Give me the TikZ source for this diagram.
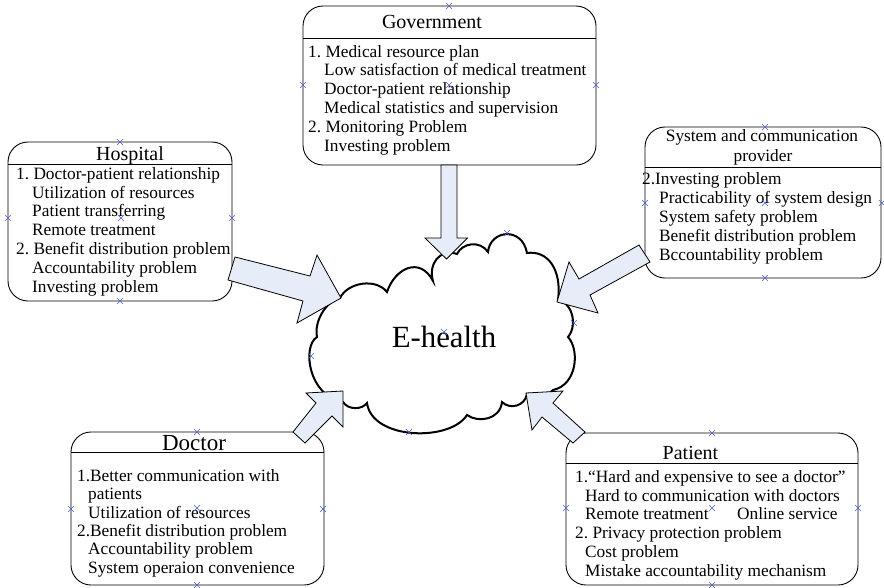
\documentclass[tikz,border=0pt]{standalone}
\usepackage{fontspec}
\setmainfont{Liberation Serif}
\frenchspacing
\definecolor{arrowfill}{HTML}{E6EDF8}
\definecolor{markblue}{HTML}{4B5CC4}
\tikzset{
  panel/.style={draw=black, line width=0.9pt, rounded corners=20pt, fill=white,
    inner sep=0pt, outer sep=0pt},
  divider/.style={draw=black, line width=0.9pt},
  blockarrow/.style={draw=black, line width=0.8pt, fill=arrowfill, line join=miter},
  cloudline/.style={draw=black, line width=2pt, fill=white},
  itemtext/.style={anchor=base west, inner sep=0pt, font=\fontsize{17.3}{18.8}\selectfont},
  titletext/.style={anchor=base, inner sep=0pt, font=\fontsize{20}{22}\selectfont},
  subtitle/.style={anchor=base, inner sep=0pt, font=\fontsize{17.3}{18.8}\selectfont},
  marker/.style={draw=markblue, line width=0.6pt},
}
\begin{document}
\begin{tikzpicture}[x=1pt,y=-1pt]
\useasboundingbox (0,0) rectangle (884,587);

% ---------- central cloud ----------
\draw[cloudline] (340,298)
  .. controls (348,282) and (376,278) .. (387,292)
  .. controls (395,268) and (420,256) .. (433,281)
  .. controls (428,264) and (440,248) .. (457,254)
  .. controls (462,243) and (480,240) .. (488,252)
  .. controls (490,230) and (522,226) .. (527,253)
  .. controls (548,250) and (562,270) .. (558,300)
  .. controls (572,302) and (578,325) .. (568,337)
  .. controls (580,350) and (577,385) .. (553,390)
  .. controls (545,398) and (535,398) .. (527,394)
  .. controls (525,406) and (510,410) .. (502,402)
  .. controls (500,420) and (478,423) .. (467,415)
  .. controls (450,442) and (372,440) .. (367,403)
  .. controls (362,410) and (348,410) .. (343,402)
  .. controls (308,396) and (302,346) .. (317,337)
  .. controls (314,322) and (325,302) .. (340,298) -- cycle;
\node[anchor=base, inner sep=0pt, font=\fontsize{30.8}{34}\selectfont] (ehealth) at (444,347) {E-health};

% ---------- stakeholder panels ----------
\node[panel, minimum width=293pt, minimum height=159pt] (gov)  at (449.5,85.5) {};
\node[panel, minimum width=224pt, minimum height=159pt] (hosp) at (120,221.5) {};
\node[panel, minimum width=236pt, minimum height=151pt] (sys)  at (763,202.5) {};
\node[panel, minimum width=253pt, minimum height=153pt] (doc)  at (197.5,508.5) {};
\node[panel, minimum width=292pt, minimum height=152pt] (pat)  at (712,509) {};

\draw[divider] (303,38) -- (596,38);
\draw[divider] (8,164) -- (232,164);
\draw[divider] (645,167) -- (881,167);
\draw[divider] (71,452) -- (324,452);
\draw[divider] (566,463) -- (858,463);

% titles
\node[titletext] (gov-title)  at (432,28.5)  {Government};
\node[titletext] (hosp-title) at (130,160.7) {Hospital};
\node[subtitle]  (sys-title1) at (762,141)   {System and communication};
\node[subtitle]  (sys-title2) at (763,161)   {provider};
\node[titletext, font=\fontsize{23}{25}\selectfont] (doc-title) at (194,450.5) {Doctor};
\node[titletext] (pat-title)  at (690.5,459.3) {Patient};

% item lists
\foreach \dx/\txt [count=\i from 0] in {
    0/1. Medical resource plan,
    16/Low satisfaction of medical treatment,
    16/Doctor-patient relationship,
    16/Medical statistics and supervision,
    0/2. Monitoring Problem,
    16/Investing problem}
  \node[itemtext] (gov-l\i) at ({308+\dx},{57+18.8*\i}) {\txt};

\foreach \dx/\txt [count=\i from 0] in {
    0/1. Doctor-patient relationship,
    16/Utilization of resources,
    16/Patient transferring,
    16/Remote treatment,
    0/2. Benefit distribution problem,
    16/Accountability problem,
    16/Investing problem}
  \node[itemtext] (hosp-l\i) at ({16+\dx},{179.3+18.8*\i}) {\txt};

\foreach \dx/\txt [count=\i from 0] in {
    0/2.Investing problem,
    17/Practicability of system design,
    17/System safety problem,
    17/Benefit distribution problem,
    17/Bccountability problem}
  \node[itemtext] (sys-l\i) at ({642+\dx},{184+19.1*\i}) {\txt};

\foreach \dx/\txt [count=\i from 0] in {
    0/1.Better communication with,
    11/patients,
    11/Utilization of resources,
    0/2.Benefit distribution problem,
    11/Accountability problem,
    11/System operaion convenience}
  \node[itemtext] (doc-l\i) at ({77+\dx},{481.5+18.3*\i}) {\txt};

\foreach \dx/\txt [count=\i from 0] in {
    0/1.“Hard and expensive to see a doctor”,
    10/Hard to communication with doctors,
    10/Remote treatment,
    0/2. Privacy protection problem,
    10/Cost problem,
    10/Mistake accountability mechanism}
  \node[itemtext] (pat-l\i) at ({575+\dx},{482.5+18.7*\i}) {\txt};
\node[itemtext] (pat-online) at (737,519.9) {Online service};

% ---------- block arrows towards the cloud ----------
% Government
\draw[blockarrow] (441,165) -- (441,238) -- (425,238) -- (446.5,259)
  -- (467.5,238) -- (457,238) -- (457,165) -- cycle;
% Hospital
\draw[blockarrow] (235,257) -- (310,276) -- (317,255) -- (341,298)
  -- (297,323) -- (303,301) -- (228,280) -- cycle;
% System and communication provider
\draw[blockarrow] (639,245) -- (579,279) -- (569,262) -- (557,302)
  -- (598,313) -- (590,295) -- (650,262) -- cycle;
% Doctor
\draw[blockarrow] (293,432) -- (316,403) -- (306,393) -- (343,391)
  -- (343,427) -- (332,416) -- (305,443) -- cycle;
% Patient
\draw[blockarrow] (526,393) -- (563,391) -- (553,403) -- (585,432)
  -- (573,443) -- (542,417) -- (532,430) -- cycle;

% ---------- connection point marks ----------
\foreach \mx/\my in {449/6, 303/85, 449/85, 596/85,
    120/142, 8/218, 121/218, 232/218, 120/301,
    765/127, 645/203, 765/203, 882/203, 765/278,
    197/432, 71/509, 197/508, 323/509, 197/585,
    712/433, 566/508, 712/508, 858/508, 712/585,
    507/233, 574/323, 311/356, 409/432, 444/332}
  \draw[marker] (\mx-3,\my-3) -- (\mx+3,\my+3) (\mx-3,\my+3) -- (\mx+3,\my-3);
\end{tikzpicture}
\end{document}
